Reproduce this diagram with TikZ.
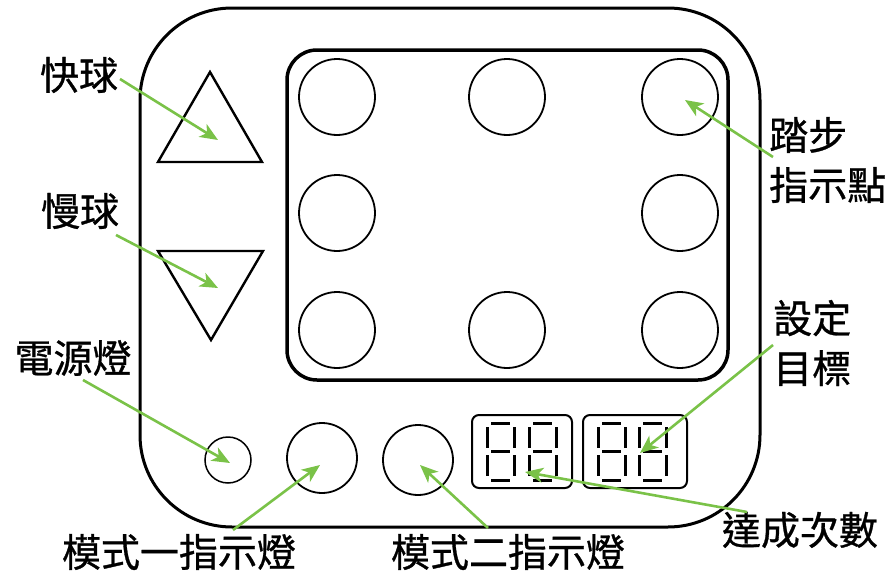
\documentclass[tikz,border=0pt]{standalone}
\usepackage{fontspec}
\newfontfamily\cjk[FakeBold=0.8]{Noto Sans CJK TC}
\usetikzlibrary{arrows.meta}
\definecolor{arrowgreen}{RGB}{122,194,72}
\newcommand\sevenseg[2]{%
  \draw[segline] (#1+4,#2) -- (#1+23,#2);
  \draw[segline] (#1+4,#2+28.5) -- (#1+23,#2+28.5);
  \draw[segline] (#1+4,#2+57) -- (#1+23,#2+57);
  \draw[segline] (#1,#2+4) -- (#1,#2+25);
  \draw[segline] (#1,#2+32) -- (#1,#2+53);
  \draw[segline] (#1+27,#2+4) -- (#1+27,#2+25);
  \draw[segline] (#1+27,#2+32) -- (#1+27,#2+53);
}
\begin{document}
\begin{tikzpicture}[x=1pt,y=-1pt,
  lbl/.style={font=\cjk\fontsize{39}{50}\selectfont, inner sep=0pt, align=left},
  gar/.style={draw=arrowgreen, line width=2.6pt, -{Stealth[length=18pt,width=15pt,inset=5pt]}},
  bigdot/.style={circle, draw, line width=1.8pt, minimum size=76pt, inner sep=0pt},
  tri/.style={draw, line width=2.4pt, line join=miter},
  segbox/.style={draw, line width=2pt, rounded corners=7pt},
  segline/.style={line width=3pt, line cap=butt}]
\useasboundingbox (0,0) rectangle (895,581);
% outer and inner frames
\draw[line width=3pt, rounded corners=92pt] (140,8) rectangle (760,527);
\draw[line width=3.5pt, rounded corners=30pt] (287,50) rectangle (728,380);
% step circles
\node[bigdot] (s1) at (337,97) {};
\node[bigdot] (s2) at (507,97) {};
\node[bigdot] (s3) at (680,97) {};
\node[bigdot] (s4) at (337,213) {};
\node[bigdot] (s5) at (680,213) {};
\node[bigdot] (s6) at (337,330) {};
\node[bigdot] (s7) at (507,330) {};
\node[bigdot] (s8) at (680,330) {};
% triangles
\draw[tri] (210,72) -- (262,162) -- (158,162) -- cycle;
\draw[tri] (158,251) -- (263,251) -- (211,340) -- cycle;
% lamps
\node[circle, draw, line width=1.5pt, minimum size=46pt, inner sep=0pt] (pw) at (228,460) {};
\node[bigdot, minimum size=70pt] (m1) at (322,458) {};
\node[bigdot, minimum size=70pt] (m2) at (418,460) {};
% displays
\draw[segbox] (472,415) rectangle (572,488);
\draw[segbox] (583,415) rectangle (687,488);
\sevenseg{487}{423}
\sevenseg{529}{423}
\sevenseg{598}{423}
\sevenseg{639}{423}
% labels
\node[lbl] (fast) at (79,75) {快球};
\node[lbl] (slow) at (80,211) {慢球};
\node[lbl] (power) at (73,358) {電源燈};
\node[lbl] (mode1) at (179,552) {模式一指示燈};
\node[lbl] (mode2) at (508,552) {模式二指示燈};
\node[lbl, anchor=west] (step) at (769,160) {踏步\\指示點};
\node[lbl, anchor=west] (goal) at (773,343) {設定\\目標};
\node[lbl] (count) at (800,530) {達成次數};
% arrow ends
\coordinate (a1s) at (120,79);  \coordinate (a1t) at (218,140);
\coordinate (a2s) at (116,235); \coordinate (a2t) at (218,288);
\coordinate (a3s) at (83,380);  \coordinate (a3t) at (230,463);
\coordinate (a4s) at (233,530); \coordinate (a4t) at (320,465);
\coordinate (a5s) at (488,528); \coordinate (a5t) at (420,465);
\coordinate (a6s) at (773,157); \coordinate (a6t) at (685,100);
\coordinate (a7s) at (773,345); \coordinate (a7t) at (640,453);
\coordinate (a8s) at (747,512); \coordinate (a8t) at (525,472);
\draw[gar] (a1s) -- (a1t);
\draw[gar] (a2s) -- (a2t);
\draw[gar] (a3s) -- (a3t);
\draw[gar] (a4s) -- (a4t);
\draw[gar] (a5s) -- (a5t);
\draw[gar] (a6s) -- (a6t);
\draw[gar] (a7s) -- (a7t);
\draw[gar] (a8s) -- (a8t);
\end{tikzpicture}
\end{document}
